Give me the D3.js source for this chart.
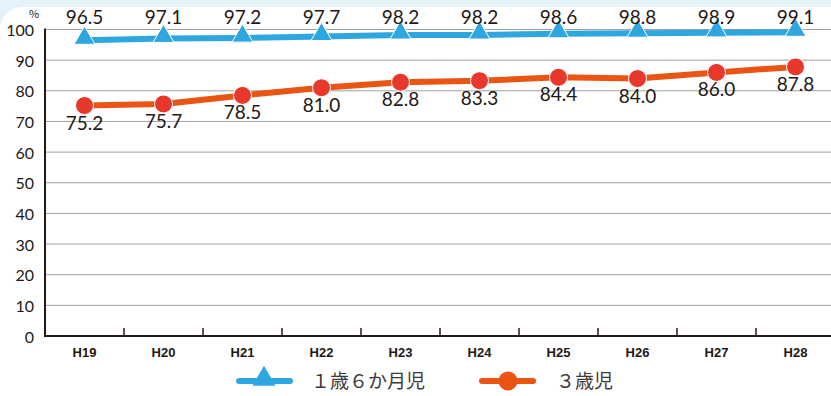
<!DOCTYPE html>
<html>
<head>
<meta charset="utf-8">
<script src="https://cdn.jsdelivr.net/npm/d3@7"></script>
<style>
  body { margin: 0; background: #fff; }
  svg { display: block; font-family: "Noto Sans CJK JP", "Noto Sans", sans-serif; }
</style>
</head>
<body>
<script>
const years = ['H19', 'H20', 'H21', 'H22', 'H23', 'H24', 'H25', 'H26', 'H27', 'H28'];
const age18m = [96.5, 97.1, 97.2, 97.7, 98.2, 98.2, 98.6, 98.8, 98.9, 99.1];
const age3y = [75.2, 75.7, 78.5, 81.0, 82.8, 83.3, 84.4, 84.0, 86.0, 87.8];
const yTicks = [0, 10, 20, 30, 40, 50, 60, 70, 80, 90, 100];

const width = 831, height = 396;
const svg = d3.select('body').append('svg').attr('width', width).attr('height', height);

// light blue frame at the top with a rounded white panel
svg.append('rect').attr('width', width).attr('height', 40).attr('fill', '#e4f2fa');
svg.append('rect').attr('x', 0).attr('y', 7).attr('width', width + 30).attr('height', height + 30)
  .attr('rx', 22).attr('fill', '#fff');

const x = d3.scaleBand().domain(years).range([45, 835]);
const y = d3.scaleLinear().domain([0, 100]).range([336, 29.5]);

// gridlines
svg.selectAll('.grid').data(yTicks.filter(d => d > 0)).join('line')
  .attr('x1', 45).attr('x2', width)
  .attr('y1', d => y(d)).attr('y2', d => y(d))
  .attr('stroke', '#a0a0a0').attr('stroke-width', 1);

// y tick labels
svg.selectAll('.ylab').data(yTicks).join('text')
  .attr('x', 34).attr('y', d => y(d) + 6.5)
  .attr('text-anchor', 'end').attr('font-size', 16).attr('fill', '#231815')
  .attr('font-family', 'Lato, sans-serif')
  .text(d => d);
svg.append('text').attr('x', 34).attr('y', 18).attr('text-anchor', 'middle')
  .attr('font-size', 11).attr('fill', '#231815').text('%');

// axes
svg.append('line').attr('x1', 45).attr('x2', 45).attr('y1', y(100) - 1).attr('y2', y(0) + 1)
  .attr('stroke', '#231815').attr('stroke-width', 2);
svg.append('line').attr('x1', 44).attr('x2', width).attr('y1', y(0)).attr('y2', y(0))
  .attr('stroke', '#231815').attr('stroke-width', 2);
svg.selectAll('.xtick').data(years.slice(1)).join('line')
  .attr('x1', d => x(d)).attr('x2', d => x(d))
  .attr('y1', y(0)).attr('y2', y(0) - 8)
  .attr('stroke', '#231815').attr('stroke-width', 1.5);
svg.selectAll('.xlab').data(years).join('text')
  .attr('x', d => x(d) + x.bandwidth() / 2).attr('y', 357)
  .attr('text-anchor', 'middle').attr('font-size', 13).attr('font-weight', 'bold')
  .attr('font-family', 'Liberation Sans, Arial, sans-serif').attr('fill', '#231815')
  .text(d => d);

const cx = (d, i) => x(years[i]) + x.bandwidth() / 2;
const line = d3.line().x(cx).y(d => y(d));

const blue = '#2ea7e0', orange = '#ea5514', red = '#e8382c';
const tri = d3.symbol().type(d3.symbolTriangle).size(190);

// series 1: 1歳6か月児
svg.append('path').attr('d', line(age18m)).attr('fill', 'none')
  .attr('stroke', blue).attr('stroke-width', 6);
svg.selectAll('.tri').data(age18m).join('path')
  .attr('d', tri)
  .attr('transform', (d, i) => `translate(${cx(d, i)},${y(d) - 2})`)
  .attr('fill', blue).attr('stroke', '#fff').attr('stroke-width', 1);
svg.selectAll('.lab1').data(age18m).join('text')
  .attr('x', cx).attr('y', 24)
  .attr('text-anchor', 'middle').attr('font-size', 19).attr('fill', '#231815')
  .attr('font-family', 'Lato, sans-serif')
  .text(d => d.toFixed(1));

// series 2: 3歳児
svg.append('path').attr('d', line(age3y)).attr('fill', 'none')
  .attr('stroke', orange).attr('stroke-width', 6);
svg.selectAll('.dot').data(age3y).join('circle')
  .attr('cx', cx).attr('cy', d => y(d)).attr('r', 9)
  .attr('fill', red).attr('stroke', '#fff').attr('stroke-width', 1);
svg.selectAll('.lab2').data(age3y).join('text')
  .attr('x', cx).attr('y', d => y(d) + 24)
  .attr('text-anchor', 'middle').attr('font-size', 19).attr('fill', '#231815')
  .attr('font-family', 'Lato, sans-serif')
  .text(d => d.toFixed(1));

// legend
const lg = svg.append('g');
lg.append('line').attr('x1', 239).attr('x2', 290).attr('y1', 381).attr('y2', 381)
  .attr('stroke', blue).attr('stroke-width', 6).attr('stroke-linecap', 'round');
lg.append('path').attr('d', d3.symbol().type(d3.symbolTriangle).size(230))
  .attr('transform', 'translate(264,379)').attr('fill', blue);
lg.append('text').attr('x', 311).attr('y', 388).attr('font-size', 19).attr('fill', '#3e3a39')
  .text('１歳６か月児');
lg.append('line').attr('x1', 482).attr('x2', 533).attr('y1', 381).attr('y2', 381)
  .attr('stroke', orange).attr('stroke-width', 6).attr('stroke-linecap', 'round');
lg.append('circle').attr('cx', 508).attr('cy', 381).attr('r', 9.5).attr('fill', orange);
lg.append('text').attr('x', 556).attr('y', 388).attr('font-size', 19).attr('fill', '#3e3a39')
  .text('３歳児');
</script>
</body>
</html>
